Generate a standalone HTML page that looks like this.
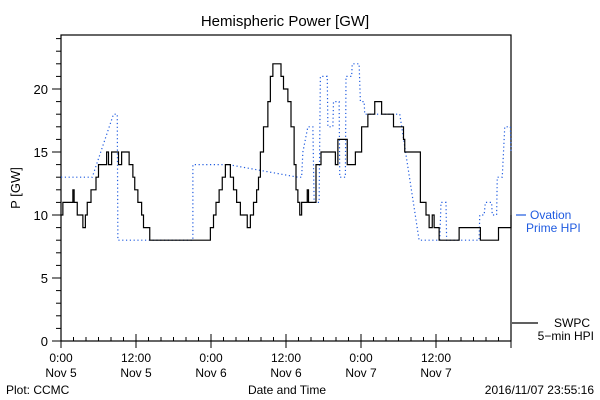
<!DOCTYPE html>
<html><head><meta charset="utf-8"><style>
body{margin:0;background:#fff;}
svg{display:block;font-family:"Liberation Sans",sans-serif;}
</style></head><body>
<svg id="chart" width="600" height="400" viewBox="0 0 600 400">
<rect width="600" height="400" fill="#fff"/>
<text x="285" y="26" font-size="15" text-anchor="middle">Hemispheric Power [GW]</text>
<text x="20" y="188" font-size="13" text-anchor="middle" transform="rotate(-90 20 188)">P [GW]</text>
<text x="287" y="394" font-size="12" text-anchor="middle">Date and Time</text>
<text x="6" y="394" font-size="12">Plot: CCMC</text>
<text x="594" y="394" font-size="12" text-anchor="end">2016/11/07 23:55:16</text>
<g id="axes"></g>
<g id="series"></g>
<line x1="516" y1="215" x2="526" y2="215" stroke="#1f5be0" stroke-width="1.2"/>
<text x="530" y="219" font-size="12" fill="#1f5be0">Ovation</text>
<text x="526" y="232" font-size="12" fill="#1f5be0">Prime HPI</text>
<line x1="512" y1="323" x2="538" y2="323" stroke="#000" stroke-width="1.2"/>
<text x="590" y="327" font-size="12" text-anchor="end">SWPC</text>
<text x="594" y="340" font-size="12" text-anchor="end">5−min HPI</text>
</svg>
<script>
const yTicks=[0,5,10,15,20];
const xTickLabels1=["0:00","12:00","0:00","12:00","0:00","12:00"];
const xTickLabels2=["Nov 5","Nov 5","Nov 6","Nov 6","Nov 7","Nov 7"];
const swpcHours=[0,0.3,1.8,1.9,2.1,2.6,3.2,3.5,3.9,4.2,4.5,4.8,5.3,5.6,6,6.9,7.3,7.6,8.1,8.9,9.2,9.7,10.4,10.9,11.5,11.8,12.3,12.9,13.2,14.2,23.4,23.9,24.4,24.8,25.3,25.8,26.3,26.8,27.1,27.6,28.1,28.7,29.5,29.8,30.3,30.8,31.3,31.6,31.9,32.4,33.1,33.5,33.9,34.8,35.2,35.6,36.3,36.8,37.3,37.6,37.9,38.2,38.5,39.4,39.6,40.5,40.8,41.6,43.4,43.9,44.3,45.4,45.8,46.9,47.1,48,48.1,49.1,50.2,51.3,51.3,53.2,53.2,54.2,54.8,55,56.2,57.5,57.5,58.4,58.9,59.4,59.7,60.5,63.7,66.9,67.1,69.8,70,71.9,72];
const swpcValues=[10,11,11,12,11,10,10,9,10,11,11,12,12,13,14,14,15,14,15,15,14,15,15,14,13,12,11,10,9,8,8,9,10,11,12,13,14,14,13,12,11,10,10,9,10,11,12,13,15,17,19,21,22,22,21,20,19,17,14,12,11,10,11,12,11,11,14,15,15,14,16,16,14,14,15,15,17,18,19,19,18,18,17,17,16,15,15,15,11,10,9,10,9,8,9,9,8,8,9,9,10];
const ovHours=[0,5,8.4,9,9.1,21.1,21.1,26.8,37.9,38.5,38.7,39.5,40.3,40.5,41.3,41.5,42.6,42.7,43.5,43.6,44.5,44.6,45.5,45.6,46.5,46.6,47.7,47.9,48.5,48.6,54.2,57.3,60.6,60.8,61.6,61.7,66.9,67,67.7,67.9,68.9,69,69.7,69.8,70.6,71,71.9,72];
const ovValues=[13,13,18,18,8,8,14,14,13,13,15,17,17,11,11,21,21,17,17,19,19,13,13,21,21,22,22,19,19,18,18,8,8,11,11,8,8,10,10,11,11,10,10,13,13,17,17,15];
const X0=61,X1=511,Y0=341,YT=35,HMAX=72,PXU=12.6;
const NS="http://www.w3.org/2000/svg";
function xs(h){return X0+(X1-X0)*h/HMAX;}
function ys(v){return Y0-v*PXU;}
function mk(tag,attrs,parent){const e=document.createElementNS(NS,tag);for(const k in attrs)e.setAttribute(k,attrs[k]);parent.appendChild(e);return e;}
const axes=document.getElementById('axes');
const frame=mk('rect',{x:X0,y:YT,width:X1-X0,height:Y0-YT,fill:'none',stroke:'#000','stroke-width':1.2},axes);


for(let v=0;v<=24;v++){
  const len=v%5===0?9:5;
  const t=mk('line',{x1:X0-len,x2:X0,y1:ys(v),y2:ys(v),stroke:'#000','stroke-width':1},axes);
  
  
}
yTicks.forEach(v=>{
  const t=mk('text',{x:X0-13,y:ys(v)+5,'font-size':13,'text-anchor':'end'},axes);
  t.textContent=String(v);
  
  
});
for(let h=0;h<=HMAX;h+=2){
  const major=h%12===0;
  const t=mk('line',{x1:xs(h),x2:xs(h),y1:major?Y0+7:Y0-4,y2:major?Y0-7:Y0,stroke:'#000','stroke-width':1},axes);
  
  
}
xTickLabels1.forEach((l,i)=>{
  const t=mk('text',{x:xs(i*12),y:362,'font-size':12,'text-anchor':'middle'},axes);
  t.textContent=l;
  
  
  const t2=mk('text',{x:xs(i*12),y:377,'font-size':12,'text-anchor':'middle'},axes);
  t2.textContent=xTickLabels2[i];
  
  
});
const series=document.getElementById('series');
const ov=mk('polyline',{points:ovHours.map((h,i)=>xs(h)+','+ys(ovValues[i])).join(' '),fill:'none',stroke:'#1f5be0','stroke-width':1.2,'stroke-dasharray':'1.2 2.6'},series);


const stepPts=[];
swpcHours.forEach((h,i)=>{
  if(i>0) stepPts.push(xs(h)+','+ys(swpcValues[i-1]));
  stepPts.push(xs(h)+','+ys(swpcValues[i]));
});
const sw=mk('polyline',{points:stepPts.join(' '),fill:'none',stroke:'#000','stroke-width':1.2},series);


</script>
</body></html>
